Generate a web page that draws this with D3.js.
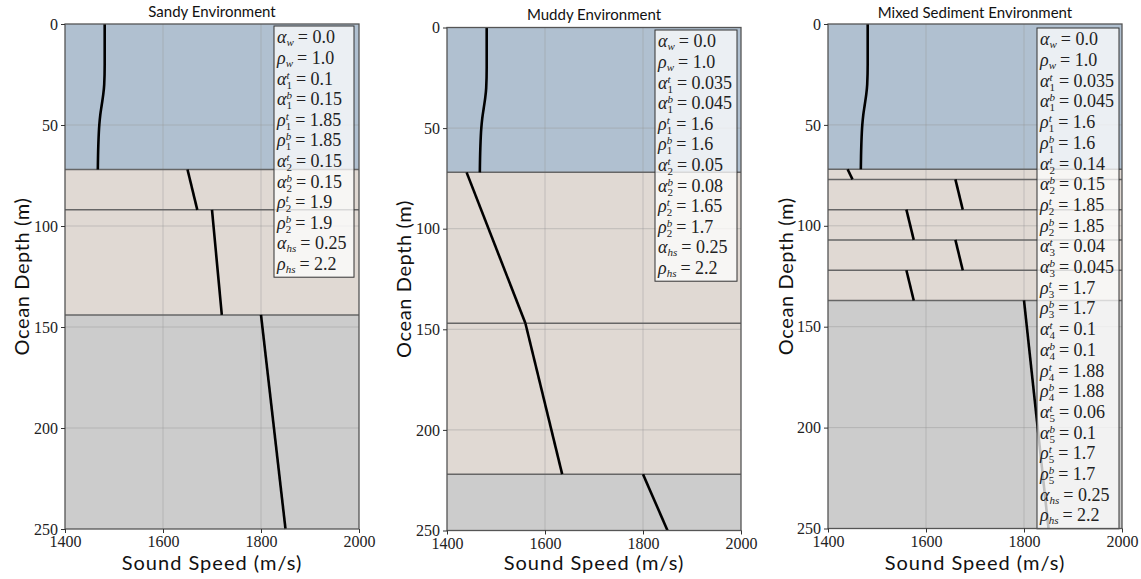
<!DOCTYPE html>
<html>
<head>
<meta charset="utf-8">
<script src="https://cdn.jsdelivr.net/npm/d3@7"></script>
<style>
  body { margin: 0; background: #fff; }
</style>
</head>
<body>
<svg id="chart" width="1141" height="579"></svg>
<script>
// chart values
var titles = ['Sandy Environment', 'Muddy Environment', 'Mixed Sediment Environment'];
var xTicks = [1400, 1600, 1800, 2000];
var yTicks = [0, 50, 100, 150, 200, 250];

// layer interfaces (m): first = sea floor, last = top of half-space
var sandyInterfaces = [72, 92, 144];
var muddyInterfaces = [72, 147, 222];
var mixedInterfaces = [72, 77, 92, 107, 122, 137];

// sound speed profiles, each segment is a list of [depth, speed]
var sandyProfiles = [
  [[0, 1481], [10, 1481], [20, 1481], [30, 1480], [35, 1478], [40, 1475], [45, 1472], [50, 1470], [60, 1468], [72, 1467]],
  [[72, 1650], [92, 1670]],
  [[92, 1700], [144, 1720]],
  [[144, 1800], [250, 1850]]
];
var muddyProfiles = [
  [[0, 1481], [10, 1481], [20, 1481], [30, 1480], [35, 1478], [40, 1475], [45, 1472], [50, 1470], [60, 1468], [72, 1467]],
  [[72, 1440], [147, 1560]],
  [[147, 1560], [222, 1635]],
  [[222, 1800], [250, 1850]]
];
var mixedProfiles = [
  [[0, 1481], [10, 1481], [20, 1481], [30, 1480], [35, 1478], [40, 1475], [45, 1472], [50, 1470], [60, 1468], [72, 1467]],
  [[72, 1440], [77, 1450]],
  [[77, 1660], [92, 1675]],
  [[92, 1560], [107, 1575]],
  [[107, 1660], [122, 1675]],
  [[122, 1560], [137, 1575]],
  [[137, 1800], [250, 1850]]
];

// legend rows: [symbol, subscript, superscript, value]
var sandyLegend = [
  ['α', 'w', '', '0.0'], ['ρ', 'w', '', '1.0'],
  ['α', '1', 't', '0.1'], ['α', '1', 'b', '0.15'],
  ['ρ', '1', 't', '1.85'], ['ρ', '1', 'b', '1.85'],
  ['α', '2', 't', '0.15'], ['α', '2', 'b', '0.15'],
  ['ρ', '2', 't', '1.9'], ['ρ', '2', 'b', '1.9'],
  ['α', 'hs', '', '0.25'], ['ρ', 'hs', '', '2.2']
];
var muddyLegend = [
  ['α', 'w', '', '0.0'], ['ρ', 'w', '', '1.0'],
  ['α', '1', 't', '0.035'], ['α', '1', 'b', '0.045'],
  ['ρ', '1', 't', '1.6'], ['ρ', '1', 'b', '1.6'],
  ['α', '2', 't', '0.05'], ['α', '2', 'b', '0.08'],
  ['ρ', '2', 't', '1.65'], ['ρ', '2', 'b', '1.7'],
  ['α', 'hs', '', '0.25'], ['ρ', 'hs', '', '2.2']
];
var mixedLegend = [
  ['α', 'w', '', '0.0'], ['ρ', 'w', '', '1.0'],
  ['α', '1', 't', '0.035'], ['α', '1', 'b', '0.045'],
  ['ρ', '1', 't', '1.6'], ['ρ', '1', 'b', '1.6'],
  ['α', '2', 't', '0.14'], ['α', '2', 'b', '0.15'],
  ['ρ', '2', 't', '1.85'], ['ρ', '2', 'b', '1.85'],
  ['α', '3', 't', '0.04'], ['α', '3', 'b', '0.045'],
  ['ρ', '3', 't', '1.7'], ['ρ', '3', 'b', '1.7'],
  ['α', '4', 't', '0.1'], ['α', '4', 'b', '0.1'],
  ['ρ', '4', 't', '1.88'], ['ρ', '4', 'b', '1.88'],
  ['α', '5', 't', '0.06'], ['α', '5', 'b', '0.1'],
  ['ρ', '5', 't', '1.7'], ['ρ', '5', 'b', '1.7'],
  ['α', 'hs', '', '0.25'], ['ρ', 'hs', '', '2.2']
];

// panel placement (pixels)
var panels = [
  { left: 65, right: 359, top: 24, bottom: 529, titleY: 13, ylabX: 22, legX: 274, legY: 26, legW: 80, row: 20.6,
    interfaces: sandyInterfaces, profiles: sandyProfiles, legend: sandyLegend },
  { left: 447, right: 741, top: 27.5, bottom: 530.5, titleY: 16, ylabX: 404, legX: 655, legY: 30, legW: 82, row: 20.6,
    interfaces: muddyInterfaces, profiles: muddyProfiles, legend: muddyLegend },
  { left: 828, right: 1122, top: 24, bottom: 528.5, titleY: 14, ylabX: 786, legX: 1037, legY: 28, legW: 82, row: 20.7,
    interfaces: mixedInterfaces, profiles: mixedProfiles, legend: mixedLegend }
];

var waterColor = '#b0c0d0';
var sedimentColor = '#e0d9d3';
var halfSpaceColor = '#cccccc';
var serifFont = "'Liberation Serif', 'DejaVu Serif', serif";
var sansFont = "Lato, 'Open Sans', sans-serif";

var svg = d3.select('#chart');

panels.forEach(function (p, i) {
  var x = d3.scaleLinear().domain([1400, 2000]).range([p.left, p.right]);
  var y = d3.scaleLinear().domain([0, 250]).range([p.top, p.bottom]);
  var g = svg.append('g');
  var ifs = p.interfaces;

  // layer fills
  var bands = [
    [0, ifs[0], waterColor],
    [ifs[0], ifs[ifs.length - 1], sedimentColor],
    [ifs[ifs.length - 1], 250, halfSpaceColor]
  ];
  g.selectAll('rect.band').data(bands).enter().append('rect')
      .attr('x', x(1400))
      .attr('width', x(2000) - x(1400))
      .attr('y', function (d) { return y(d[0]); })
      .attr('height', function (d) { return y(d[1]) - y(d[0]); })
      .attr('fill', function (d) { return d[2]; });

  // grid
  g.selectAll('line.gx').data(xTicks.slice(1, -1)).enter().append('line')
      .attr('x1', x).attr('x2', x)
      .attr('y1', y(0)).attr('y2', y(250))
      .attr('stroke', 'rgba(150,150,150,0.45)').attr('stroke-width', 1);
  g.selectAll('line.gy').data(yTicks.slice(1, -1)).enter().append('line')
      .attr('y1', y).attr('y2', y)
      .attr('x1', x(1400)).attr('x2', x(2000))
      .attr('stroke', 'rgba(150,150,150,0.45)').attr('stroke-width', 1);

  // interfaces
  g.selectAll('line.iface').data(ifs).enter().append('line')
      .attr('y1', y).attr('y2', y)
      .attr('x1', x(1400)).attr('x2', x(2000))
      .attr('stroke', '#666').attr('stroke-width', 1.5);

  // sound speed profiles
  var line = d3.line()
    .x(function (d) { return x(d[1]); })
    .y(function (d) { return y(d[0]); })
    .curve(d3.curveMonotoneY);
  g.selectAll('path.prof').data(p.profiles).enter().append('path')
      .attr('d', line)
      .attr('fill', 'none')
      .attr('stroke', '#000')
      .attr('stroke-width', 2.6);

  // legend
  var n = p.legend.length;
  var lg = g.append('g').style('font-family', serifFont).attr('fill', '#222');
  lg.append('rect')
      .attr('x', p.legX).attr('y', p.legY)
      .attr('width', p.legW).attr('height', n * p.row + 4)
      .attr('fill', 'rgba(255,255,255,0.75)')
      .attr('stroke', '#333').attr('stroke-width', 1);
  p.legend.forEach(function (d, k) {
    var bx = p.legX + 3;
    var by = p.legY + 2 + p.row * (k + 0.5) + 5;
    var sym = lg.append('text')
        .attr('x', bx).attr('y', by)
        .style('font-size', '18px').style('font-style', 'italic')
        .text(d[0]);
    var w = sym.node().getComputedTextLength();
    var italicSub = isNaN(+d[1]);
    var sub = lg.append('text')
        .attr('x', bx + w).attr('y', by + (d[2] ? 4 : 3))
        .style('font-size', '11px').style('font-style', italicSub ? 'italic' : 'normal')
        .text(d[1]);
    var sw = sub.node().getComputedTextLength();
    if (d[2]) {
      var sup = lg.append('text')
          .attr('x', bx + w).attr('y', by - 6)
          .style('font-size', '11px').style('font-style', 'italic')
          .text(d[2]);
      sw = Math.max(sw, sup.node().getComputedTextLength());
    }
    lg.append('text')
        .attr('x', bx + w + sw + 4).attr('y', by)
        .style('font-size', '18px')
        .text('= ' + d[3]);
  });

  // frame
  g.append('rect')
      .attr('x', x(1400)).attr('y', y(0))
      .attr('width', x(2000) - x(1400)).attr('height', y(250) - y(0))
      .attr('fill', 'none').attr('stroke', '#555').attr('stroke-width', 1.3);

  // axes
  var yAxis = d3.axisLeft(y).tickValues(yTicks).tickSize(4).tickPadding(3).tickFormat(d3.format('d'));
  var xAxis = d3.axisBottom(x).tickValues(xTicks).tickSize(4).tickPadding(3).tickFormat(d3.format('d'));
  var yG = g.append('g').attr('transform', 'translate(' + x(1400) + ',0)').call(yAxis);
  var xG = g.append('g').attr('transform', 'translate(0,' + y(250) + ')').call(xAxis);
  [yG, xG].forEach(function (ax) {
    ax.select('.domain').remove();
    ax.attr('font-family', null).attr('font-size', null);
    ax.selectAll('.tick line').attr('stroke', '#333');
    ax.selectAll('.tick text')
        .attr('fill', '#222')
        .style('font-family', serifFont)
        .style('font-size', '16px');
  });

  // titles and labels
  g.append('text')
      .attr('x', (p.left + p.right) / 2).attr('y', p.titleY)
      .attr('text-anchor', 'middle').attr('dominant-baseline', 'middle')
      .style('font-family', sansFont).style('font-size', '15px').attr('fill', '#111')
      .text(titles[i]);
  g.append('text')
      .attr('x', (p.left + p.right) / 2).attr('y', 570)
      .attr('text-anchor', 'middle')
      .style('font-family', sansFont).style('font-size', '20px').style('letter-spacing', '1px')
      .attr('fill', '#111')
      .text('Sound Speed (m/s)');
  g.append('text')
      .attr('transform', 'translate(' + (p.ylabX + 7) + ',' + ((p.top + p.bottom) / 2) + ') rotate(-90)')
      .attr('text-anchor', 'middle')
      .style('font-family', sansFont).style('font-size', '20px').style('letter-spacing', '0.6px')
      .attr('fill', '#111')
      .text('Ocean Depth (m)');
});
</script>
</body>
</html>
